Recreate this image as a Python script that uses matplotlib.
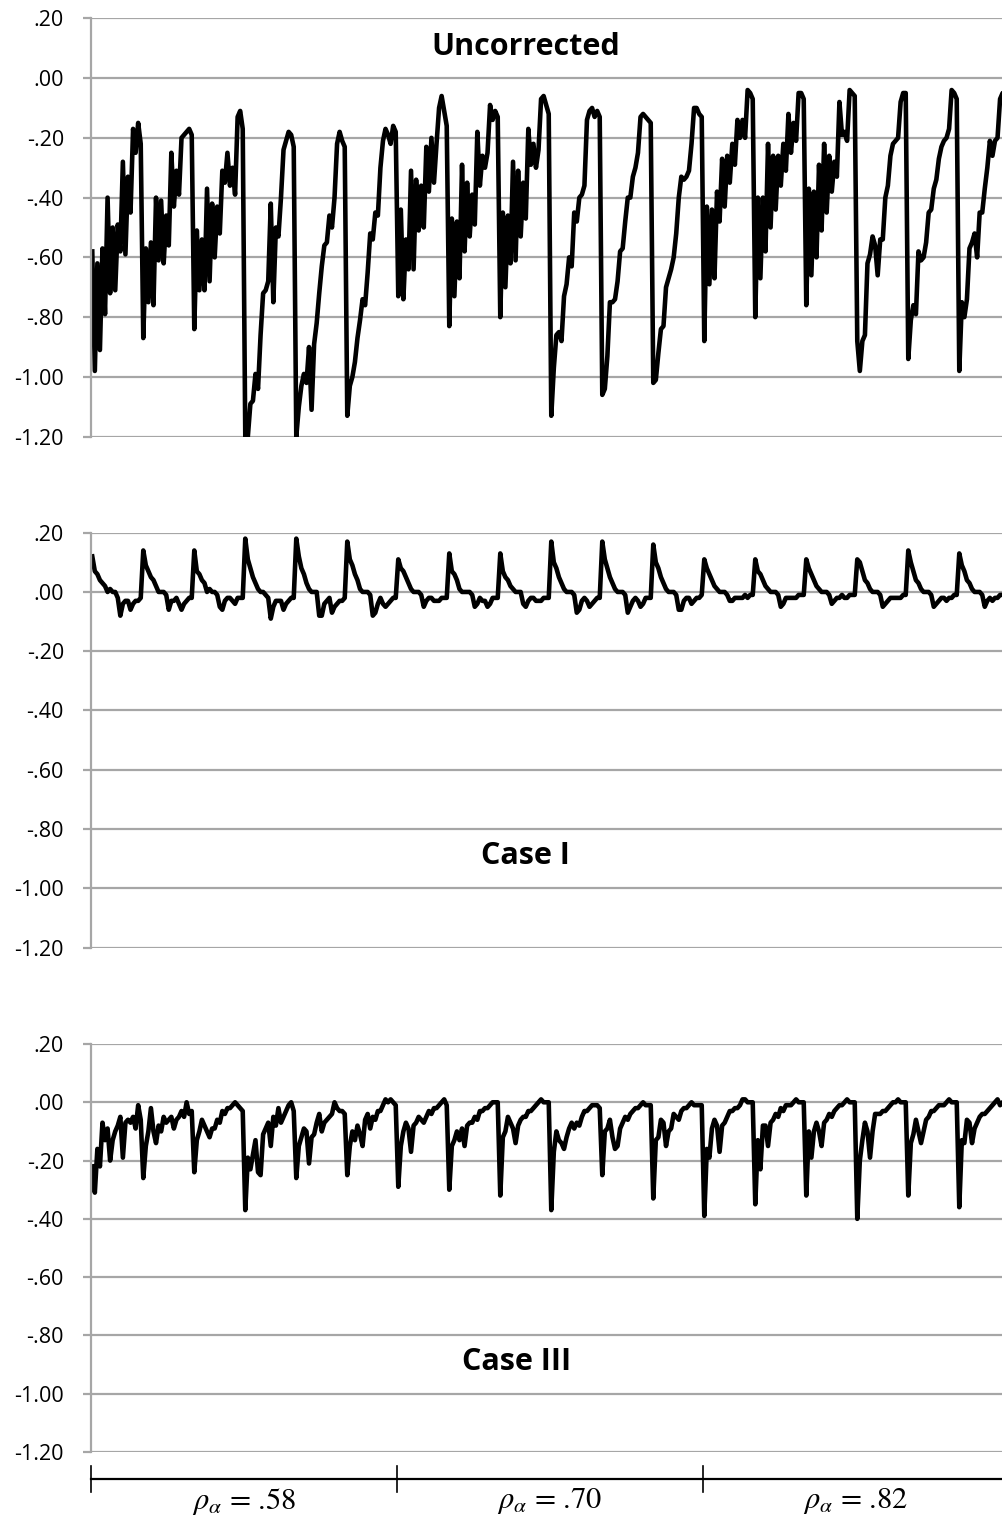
import numpy as np
import matplotlib
matplotlib.use('Agg')
import matplotlib.pyplot as plt
from matplotlib.ticker import FuncFormatter

# ---------------- data (18 conditions x 20 points, 3 reliability groups) -------------
group_labels = ['.58', '.70', '.82']
y_ticks = [-1.2, -1.0, -0.8, -0.6, -0.4, -0.2, 0.0, 0.2]
panel_titles = ['Uncorrected', 'Case I', 'Case III']

unc_58 = [
    -0.58, -0.98, -0.62, -0.91, -0.57, -0.79, -0.40, -0.72, -0.50, -0.71, -0.49, -0.58, -0.28, -0.59, -0.33, -0.45, -0.17, -0.25, -0.15, -0.22,
    -0.87, -0.57, -0.75, -0.55, -0.76, -0.40, -0.61, -0.41, -0.62, -0.46, -0.56, -0.25, -0.43, -0.31, -0.39, -0.20, -0.19, -0.18, -0.17, -0.19,
    -0.84, -0.51, -0.71, -0.54, -0.71, -0.37, -0.68, -0.42, -0.60, -0.43, -0.52, -0.31, -0.35, -0.25, -0.36, -0.30, -0.39, -0.13, -0.11, -0.17,
    -1.20, -1.20, -1.09, -1.08, -0.99, -1.04, -0.86, -0.72, -0.71, -0.68, -0.42, -0.75, -0.50, -0.53, -0.40, -0.24, -0.21, -0.18, -0.19, -0.23,
    -1.20, -1.10, -1.03, -0.99, -1.02, -0.90, -1.11, -0.89, -0.82, -0.72, -0.63, -0.56, -0.55, -0.46, -0.50, -0.40, -0.22, -0.18, -0.21, -0.23,
    -1.13, -1.03, -1.00, -0.95, -0.87, -0.81, -0.74, -0.76, -0.65, -0.52, -0.54, -0.45, -0.46, -0.30, -0.21, -0.17, -0.19, -0.22, -0.16, -0.18,
]
unc_70 = [
    -0.73, -0.44, -0.74, -0.54, -0.64, -0.31, -0.64, -0.34, -0.51, -0.36, -0.50, -0.23, -0.38, -0.20, -0.35, -0.22, -0.10, -0.06, -0.11, -0.16,
    -0.83, -0.47, -0.73, -0.48, -0.67, -0.29, -0.58, -0.35, -0.53, -0.39, -0.49, -0.18, -0.36, -0.26, -0.30, -0.25, -0.09, -0.14, -0.11, -0.13,
    -0.80, -0.45, -0.70, -0.46, -0.62, -0.28, -0.61, -0.31, -0.53, -0.35, -0.47, -0.17, -0.29, -0.22, -0.30, -0.24, -0.07, -0.06, -0.09, -0.12,
    -1.13, -0.97, -0.86, -0.85, -0.88, -0.73, -0.69, -0.60, -0.63, -0.45, -0.48, -0.40, -0.39, -0.36, -0.14, -0.11, -0.10, -0.13, -0.11, -0.13,
    -1.06, -1.04, -0.93, -0.75, -0.75, -0.74, -0.68, -0.58, -0.57, -0.48, -0.40, -0.40, -0.33, -0.30, -0.25, -0.13, -0.12, -0.13, -0.14, -0.15,
    -1.02, -1.01, -0.92, -0.84, -0.83, -0.70, -0.67, -0.64, -0.60, -0.52, -0.40, -0.33, -0.34, -0.33, -0.31, -0.22, -0.10, -0.10, -0.12, -0.13,
]
unc_82 = [
    -0.88, -0.43, -0.69, -0.44, -0.67, -0.38, -0.48, -0.27, -0.43, -0.26, -0.35, -0.22, -0.29, -0.14, -0.20, -0.14, -0.20, -0.04, -0.05, -0.07,
    -0.80, -0.40, -0.67, -0.40, -0.58, -0.22, -0.50, -0.26, -0.44, -0.26, -0.36, -0.22, -0.31, -0.12, -0.25, -0.15, -0.21, -0.05, -0.05, -0.07,
    -0.76, -0.37, -0.66, -0.38, -0.60, -0.29, -0.51, -0.22, -0.45, -0.26, -0.38, -0.28, -0.33, -0.08, -0.19, -0.18, -0.21, -0.04, -0.05, -0.06,
    -0.88, -0.98, -0.88, -0.86, -0.62, -0.59, -0.53, -0.56, -0.66, -0.54, -0.54, -0.40, -0.36, -0.26, -0.22, -0.21, -0.20, -0.08, -0.05, -0.05,
    -0.94, -0.81, -0.76, -0.79, -0.58, -0.61, -0.60, -0.55, -0.45, -0.44, -0.37, -0.34, -0.27, -0.23, -0.21, -0.20, -0.17, -0.04, -0.05, -0.07,
    -0.98, -0.75, -0.80, -0.74, -0.57, -0.55, -0.52, -0.60, -0.45, -0.45, -0.37, -0.30, -0.21, -0.26, -0.21, -0.20, -0.07, -0.05, -0.07, -0.05,
]

case1_58 = [
    0.12, 0.07, 0.06, 0.04, 0.03, 0.02, 0.00, 0.01, 0.00, 0.00, -0.02, -0.08, -0.04, -0.03, -0.03, -0.06, -0.04, -0.03, -0.03, -0.02,
    0.14, 0.09, 0.07, 0.05, 0.04, 0.02, 0.00, 0.00, 0.00, -0.01, -0.06, -0.03, -0.03, -0.02, -0.04, -0.06, -0.04, -0.03, -0.02, -0.02,
    0.14, 0.07, 0.06, 0.04, 0.03, 0.00, 0.01, 0.00, 0.00, -0.01, -0.05, -0.06, -0.03, -0.02, -0.02, -0.03, -0.04, -0.02, -0.02, -0.02,
    0.18, 0.11, 0.08, 0.05, 0.03, 0.01, 0.00, 0.00, -0.01, -0.02, -0.09, -0.05, -0.03, -0.03, -0.03, -0.06, -0.04, -0.03, -0.02, -0.02,
    0.18, 0.12, 0.08, 0.06, 0.03, 0.01, 0.00, 0.00, 0.00, -0.08, -0.08, -0.04, -0.03, -0.02, -0.07, -0.05, -0.04, -0.03, -0.03, -0.02,
    0.17, 0.11, 0.09, 0.06, 0.04, 0.01, 0.00, 0.00, 0.00, -0.01, -0.08, -0.07, -0.04, -0.02, -0.04, -0.05, -0.04, -0.03, -0.02, -0.02,
]
case1_70 = [
    0.11, 0.08, 0.07, 0.05, 0.03, 0.01, 0.00, 0.00, 0.00, -0.01, -0.05, -0.03, -0.02, -0.02, -0.03, -0.03, -0.03, -0.02, -0.02, -0.02,
    0.13, 0.07, 0.06, 0.04, 0.01, 0.00, 0.00, 0.00, 0.00, -0.01, -0.05, -0.04, -0.02, -0.03, -0.03, -0.05, -0.04, -0.02, -0.02, -0.02,
    0.13, 0.07, 0.05, 0.04, 0.02, 0.01, 0.00, 0.00, 0.00, -0.04, -0.05, -0.03, -0.02, -0.02, -0.03, -0.03, -0.03, -0.02, -0.02, -0.02,
    0.17, 0.10, 0.08, 0.05, 0.03, 0.01, 0.00, 0.00, 0.00, -0.01, -0.07, -0.06, -0.03, -0.02, -0.03, -0.05, -0.04, -0.03, -0.02, -0.02,
    0.17, 0.11, 0.08, 0.05, 0.03, 0.01, 0.00, 0.00, 0.00, -0.01, -0.07, -0.05, -0.03, -0.02, -0.03, -0.05, -0.04, -0.02, -0.02, -0.02,
    0.16, 0.10, 0.08, 0.05, 0.03, 0.01, 0.00, 0.00, 0.00, -0.01, -0.06, -0.06, -0.03, -0.02, -0.02, -0.04, -0.03, -0.02, -0.02, -0.01,
]
case1_82 = [
    0.11, 0.08, 0.06, 0.04, 0.02, 0.01, 0.00, 0.00, 0.00, -0.01, -0.03, -0.03, -0.02, -0.02, -0.02, -0.02, -0.01, -0.02, -0.01, -0.01,
    0.11, 0.07, 0.06, 0.04, 0.02, 0.01, 0.00, 0.00, 0.00, -0.01, -0.05, -0.04, -0.02, -0.02, -0.02, -0.02, -0.02, -0.01, -0.01, -0.01,
    0.11, 0.08, 0.06, 0.04, 0.02, 0.01, 0.00, 0.00, 0.00, -0.01, -0.04, -0.03, -0.02, -0.02, -0.01, -0.02, -0.02, -0.01, -0.01, -0.01,
    0.11, 0.10, 0.07, 0.04, 0.03, 0.01, 0.00, 0.00, 0.00, -0.01, -0.05, -0.04, -0.03, -0.02, -0.02, -0.02, -0.02, -0.02, -0.01, -0.01,
    0.14, 0.10, 0.07, 0.04, 0.03, 0.01, 0.00, 0.00, 0.00, -0.01, -0.05, -0.04, -0.03, -0.02, -0.02, -0.03, -0.02, -0.02, -0.01, -0.01,
    0.13, 0.09, 0.07, 0.04, 0.03, 0.01, 0.00, 0.00, 0.00, -0.01, -0.05, -0.03, -0.02, -0.03, -0.02, -0.02, -0.01, -0.01, -0.01, -0.01,
]

case3_58 = [
    -0.22, -0.31, -0.16, -0.22, -0.07, -0.13, -0.09, -0.20, -0.13, -0.10, -0.08, -0.05, -0.19, -0.07, -0.06, -0.07, -0.05, -0.09, -0.01, -0.06,
    -0.26, -0.15, -0.10, -0.02, -0.10, -0.14, -0.08, -0.10, -0.05, -0.07, -0.06, -0.05, -0.09, -0.06, -0.05, -0.03, -0.05, 0.00, -0.04, -0.03,
    -0.24, -0.13, -0.10, -0.06, -0.08, -0.10, -0.12, -0.09, -0.09, -0.06, -0.07, -0.03, -0.04, -0.02, -0.02, -0.01, 0.00, -0.01, -0.02, -0.03,
    -0.37, -0.19, -0.23, -0.18, -0.13, -0.24, -0.25, -0.11, -0.09, -0.07, -0.15, -0.05, -0.08, -0.02, -0.07, -0.05, -0.03, -0.01, 0.00, -0.03,
    -0.26, -0.15, -0.12, -0.09, -0.10, -0.21, -0.12, -0.11, -0.07, -0.04, -0.10, -0.07, -0.06, -0.05, -0.04, 0.00, -0.02, -0.03, -0.03, -0.04,
    -0.25, -0.15, -0.10, -0.13, -0.08, -0.11, -0.15, -0.06, -0.04, -0.09, -0.05, -0.06, -0.03, -0.03, -0.01, 0.01, 0.00, 0.01, 0.00, -0.01,
]
case3_70 = [
    -0.29, -0.15, -0.10, -0.07, -0.09, -0.17, -0.08, -0.07, -0.05, -0.06, -0.07, -0.05, -0.03, -0.04, -0.02, -0.02, -0.01, 0.00, 0.01, -0.01,
    -0.30, -0.15, -0.13, -0.10, -0.13, -0.09, -0.15, -0.08, -0.07, -0.07, -0.05, -0.06, -0.03, -0.03, -0.02, -0.02, -0.01, 0.00, 0.00, 0.00,
    -0.32, -0.12, -0.10, -0.05, -0.07, -0.09, -0.14, -0.08, -0.06, -0.05, -0.05, -0.03, -0.03, -0.02, -0.01, 0.00, 0.01, 0.00, 0.00, 0.00,
    -0.37, -0.17, -0.10, -0.13, -0.14, -0.16, -0.12, -0.09, -0.07, -0.09, -0.07, -0.08, -0.05, -0.03, -0.03, -0.02, -0.01, -0.01, -0.01, -0.02,
    -0.25, -0.10, -0.09, -0.06, -0.12, -0.16, -0.15, -0.09, -0.07, -0.05, -0.06, -0.04, -0.03, -0.02, -0.02, -0.01, 0.00, -0.01, -0.01, -0.01,
    -0.33, -0.13, -0.12, -0.06, -0.07, -0.15, -0.10, -0.09, -0.04, -0.05, -0.06, -0.03, -0.02, -0.02, -0.01, 0.00, -0.01, -0.01, -0.01, -0.01,
]
case3_82 = [
    -0.39, -0.16, -0.19, -0.09, -0.06, -0.08, -0.17, -0.08, -0.07, -0.05, -0.03, -0.03, -0.02, -0.02, -0.01, 0.01, 0.01, 0.00, 0.00, 0.00,
    -0.35, -0.13, -0.23, -0.08, -0.08, -0.15, -0.07, -0.06, -0.04, -0.05, -0.02, -0.03, -0.01, -0.01, -0.01, 0.00, 0.01, 0.00, 0.00, 0.00,
    -0.32, -0.10, -0.19, -0.10, -0.07, -0.10, -0.15, -0.07, -0.06, -0.04, -0.05, -0.03, -0.02, -0.01, -0.01, 0.00, 0.01, 0.00, 0.00, 0.00,
    -0.40, -0.20, -0.13, -0.07, -0.10, -0.19, -0.10, -0.04, -0.04, -0.04, -0.03, -0.03, -0.02, -0.01, 0.00, 0.00, 0.01, 0.00, 0.00, 0.00,
    -0.32, -0.14, -0.11, -0.06, -0.10, -0.14, -0.10, -0.06, -0.05, -0.03, -0.03, -0.02, -0.01, -0.01, -0.01, 0.00, 0.01, 0.00, 0.00, 0.00,
    -0.36, -0.13, -0.14, -0.06, -0.07, -0.14, -0.09, -0.07, -0.05, -0.04, -0.04, -0.03, -0.02, -0.01, 0.00, 0.01, -0.01, 0.00, 0.00, 0.00,
]

series = [unc_58 + unc_70 + unc_82,
          case1_58 + case1_70 + case1_82,
          case3_58 + case3_70 + case3_82]

# ---------------- figure ------------------------------------------------------------
plt.rcParams['font.family'] = ['Open Sans', 'DejaVu Sans']
plt.rcParams['mathtext.fontset'] = 'stix'

W, H = 1002, 1517
fig = plt.figure(figsize=(W / 100, H / 100), dpi=100)
fig.patch.set_facecolor('white')

LEFT_PX, RIGHT_PX = 91, 1009
GRID = '#a6a6a6'

n_total = len(series[0])
n_group = n_total // len(group_labels)
x = np.arange(n_total)
xlim = (-0.5, n_total - 0.5)


def add_ax(top_px, bottom_px):
    return fig.add_axes([LEFT_PX / W, 1 - bottom_px / H,
                         (RIGHT_PX - LEFT_PX) / W, (bottom_px - top_px) / H])


def fmt(v, pos=None):
    s = f"{v:.2f}"
    if s == "-0.00":
        s = "0.00"
    return s.replace("0.", ".", 1) if s.lstrip('-').startswith("0.") else s


panels = [(18.3, 436.7), (532.7, 947.5), (1044.0, 1452.0)]
title_pos = [(526, 47), (525, 856), (517, 1362)]

for vals, (tp, bp), title, (tx, ty) in zip(series, panels, panel_titles, title_pos):
    ax = add_ax(tp, bp)
    ax.set_xlim(*xlim)
    ax.set_ylim(-1.2, 0.2)
    ax.set_yticks(y_ticks)
    ax.yaxis.set_major_formatter(FuncFormatter(fmt))
    ax.grid(axis='y', color=GRID, lw=1.6)
    ax.set_axisbelow(True)
    for s in ['top', 'right', 'bottom']:
        ax.spines[s].set_visible(False)
    ax.spines['left'].set_color(GRID)
    ax.spines['left'].set_linewidth(1.6)
    ax.tick_params(axis='y', length=6, width=1.6, color=GRID, pad=13.5,
                   labelsize=15.5, labelcolor='black')
    ax.tick_params(axis='x', bottom=False, labelbottom=False)
    ax.plot(x, vals, color='black', lw=3.3, solid_joinstyle='round')
    fig.text(tx / W, 1 - ty / H, title, ha='center', va='center',
             fontsize=22, fontweight='bold')

# bottom category axis
axb = fig.add_axes([LEFT_PX / W, 1 - 1492 / H, (RIGHT_PX - LEFT_PX) / W, 26 / H])
axb.set_xlim(*xlim)
axb.set_ylim(0, 1)
axb.axis('off')
edges = [i * n_group - 0.5 for i in range(len(group_labels) + 1)]
axb.plot([edges[0], edges[-1]], [0.5, 0.5], color='black', lw=1.6, clip_on=False)
for e in edges:
    axb.plot([e, e], [0, 1], color='black', lw=1.2, clip_on=False)
for i, g in enumerate(group_labels):
    c = (edges[i] + edges[i + 1]) / 2
    axb.text(c, -0.35, r'$\rho_{\alpha}$ = ' + g, ha='center', va='center',
             fontsize=22, family='STIXGeneral',
             transform=axb.get_xaxis_transform(), clip_on=False)

fig.savefig('out.png', dpi=100, facecolor='white')
